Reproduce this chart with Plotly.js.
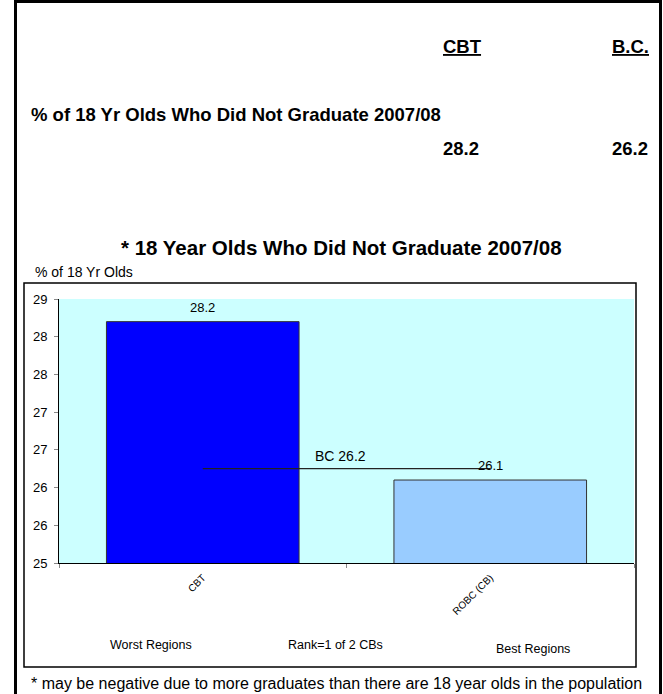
<!DOCTYPE html>
<html>
<head>
<meta charset="utf-8">
<script src="https://cdn.plot.ly/plotly-3.0.1.min.js"></script>
<style>
html,body{margin:0;padding:0;background:#fff;}
#chart{width:663px;height:694px;}
</style>
</head>
<body>
<div id="chart"></div>
<script>
// ---- data ----
const categories = ['CBT', 'ROBC (CB)'];
const values = [28.2, 26.1];
const valueLabels = ['28.2', '26.1'];
const barColors = ['#0000FF', '#99CCFF'];
const bcValue = 26.25;
const bcLabel = 'BC 26.2';
const yTickVals = [25, 25.5, 26, 26.5, 27, 27.5, 28, 28.5];
const yTickText = yTickVals.map(v => String(Math.round(v)));
const tableHeaders = ['CBT', 'B.C.'];
const tableValues = ['28.2', '26.2'];
const tableRowLabel = '% of 18 Yr Olds Who Did Not Graduate 2007/08';
const chartTitle = '* 18 Year Olds Who Did Not Graduate 2007/08';
const yAxisLabel = '% of 18 Yr Olds';
const bottomLabels = ['Worst Regions', 'Rank=1 of 2 CBs', 'Best Regions'];
const footnote = '* may be negative due to more graduates than there are 18 year olds in the population';

// ---- layout geometry (pixels) ----
const W = 663, H = 694;
const PL = 59, PR = 634, PT = 299, PB = 563;
const px = x => (x - PL) / (PR - PL);
const py = y => (PB - y) / (PB - PT);
const FONT = 'Liberation Sans, Arial, sans-serif';

const traces = [
  {
    type: 'bar',
    x: categories,
    y: values,
    marker: {color: barColors, line: {color: '#333', width: 1}},
    width: 0.67,
    base: 0,
    hoverinfo: 'skip'
  },
  {
    type: 'scatter',
    mode: 'lines',
    x: categories,
    y: [bcValue, bcValue],
    line: {color: '#222', width: 1.2},
    hoverinfo: 'skip'
  }
];

function txt(text, x, y, size, opts) {
  return Object.assign({
    text: text, xref: 'paper', yref: 'paper', x: px(x), y: py(y),
    showarrow: false, xanchor: 'center', yanchor: 'middle',
    font: {family: FONT, size: size, color: '#000'}
  }, opts || {});
}

const annotations = [
  txt('<b><u>' + tableHeaders[0] + '</u></b>', 462, 46, 18.5),
  txt('<b><u>' + tableHeaders[1] + '</u></b>', 630, 46, 18.5),
  txt('<b>' + tableRowLabel + '</b>', 29, 114, 18.5, {xanchor: 'left'}),
  txt('<b>' + tableValues[0] + '</b>', 461, 148, 18.5),
  txt('<b>' + tableValues[1] + '</b>', 630, 148, 18.5),
  txt('<b>' + chartTitle + '</b>', 341, 247, 20.5),
  txt(yAxisLabel, 33, 272, 14, {xanchor: 'left'}),
  {
    text: bcLabel, xref: 'x', yref: 'y', x: 0.48, y: bcValue, yshift: 13,
    showarrow: false, font: {family: FONT, size: 14, color: '#000'}
  },
  txt(bottomLabels[0], 151, 645, 12.5),
  txt(bottomLabels[1], 335, 645, 12.5),
  txt(bottomLabels[2], 533, 649, 12.5),
  txt(footnote, 336, 683, 16)
];
categories.forEach((c, i) => {
  annotations.push({
    text: valueLabels[i], xref: 'x', yref: 'y', x: c, y: values[i], yshift: 14.5,
    showarrow: false, yanchor: 'middle',
    font: {family: FONT, size: 13, color: '#000'}
  });
});

const shapes = [
  // outer thick frame
  {type: 'rect', xref: 'paper', yref: 'paper', x0: px(15.5), x1: px(660.5), y0: py(720), y1: py(1.5),
   line: {color: '#000', width: 3}, fillcolor: 'rgba(0,0,0,0)', layer: 'below'},
  // inner chart box
  {type: 'rect', xref: 'paper', yref: 'paper', x0: px(24), x1: px(636), y0: py(667), y1: py(283),
   line: {color: '#000', width: 1.5}, fillcolor: 'rgba(0,0,0,0)', layer: 'below'}
];

const layout = {
  width: W, height: H,
  margin: {l: PL, r: W - PR, t: PT, b: H - PB, pad: 0},
  paper_bgcolor: '#fff',
  plot_bgcolor: '#CCFFFF',
  showlegend: false,
  font: {family: FONT, size: 11, color: '#000'},
  xaxis: {
    type: 'category',
    range: [-0.5, 1.5],
    tickangle: -45,
    tickson: 'boundaries',
    ticks: 'outside', ticklen: 4, tickcolor: '#888',
    ticklabelstandoff: 4,
    showline: true, linecolor: '#000', linewidth: 1,
    showgrid: false, zeroline: false,
    tickfont: {family: FONT, size: 10, color: '#000'},
    fixedrange: true
  },
  yaxis: {
    range: [25, 28.5],
    tickvals: yTickVals,
    ticktext: yTickText,
    ticks: 'outside', ticklen: 4, tickcolor: '#888',
    ticklabelstandoff: 4,
    showline: true, linecolor: '#000', linewidth: 1,
    showgrid: false, zeroline: false,
    tickfont: {family: FONT, size: 13, color: '#000'},
    fixedrange: true
  },
  annotations: annotations,
  shapes: shapes
};

Plotly.newPlot('chart', traces, layout, {displayModeBar: false, staticPlot: true});
</script>
</body>
</html>
